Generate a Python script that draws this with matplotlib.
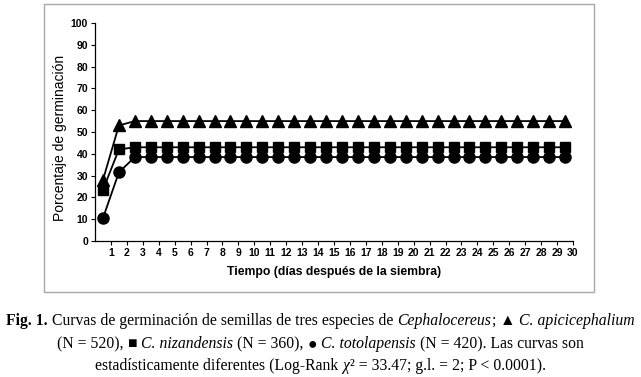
import matplotlib
matplotlib.use('Agg')
import numpy as np
import matplotlib.pyplot as plt
from matplotlib.patches import Rectangle

# Días después de la siembra (categorías del eje x)
dias = [1, 2, 3, 4, 5, 6, 7, 8, 9, 10, 11, 12, 13, 14, 15,
        16, 17, 18, 19, 20, 21, 22, 23, 24, 25, 26, 27, 28, 29, 30]

# Porcentaje de germinación acumulado por especie
apicicephalium = [28, 53, 55, 55, 55, 55, 55, 55, 55, 55, 55, 55, 55, 55, 55,
                  55, 55, 55, 55, 55, 55, 55, 55, 55, 55, 55, 55, 55, 55, 55]
nizandensis = [23.5, 42, 43, 43, 43, 43, 43, 43, 43, 43, 43, 43, 43, 43, 43,
               43, 43, 43, 43, 43, 43, 43, 43, 43, 43, 43, 43, 43, 43, 43]
totolapensis = [10.5, 31.5, 38.5, 38.5, 38.5, 38.5, 38.5, 38.5, 38.5, 38.5,
                38.5, 38.5, 38.5, 38.5, 38.5, 38.5, 38.5, 38.5, 38.5, 38.5,
                38.5, 38.5, 38.5, 38.5, 38.5, 38.5, 38.5, 38.5, 38.5, 38.5]

y_ticks = [0, 10, 20, 30, 40, 50, 60, 70, 80, 90, 100]

# Pie de figura: trozos (texto, estilo, peso); un espacio inicial = separación
linea1 = [('Fig. 1.', 'normal', 'bold'),
          (' Curvas de germinación de semillas de tres especies de', 'normal', 'normal'),
          (' Cephalocereus', 'italic', 'normal'), (';', 'normal', 'normal'),
          (' ▲', 'normal', 'normal'), (' C. apicicephalium', 'italic', 'normal')]
linea2 = [('(N = 520),', 'normal', 'normal'), (' ■', 'normal', 'normal'),
          (' C. nizandensis', 'italic', 'normal'), (' (N = 360),', 'normal', 'normal'),
          (' ●', 'normal', 'normal'), (' C. totolapensis', 'italic', 'normal'),
          (' (N = 420). Las curvas son', 'normal', 'normal')]
linea3 = [('estadísticamente diferentes (Log-Rank', 'normal', 'normal'),
          (' χ', 'italic', 'normal'),
          ('² = 33.47; g.l. = 2; P < 0.0001).', 'normal', 'normal')]

plt.rcParams['font.family'] = ['Liberation Sans', 'DejaVu Sans']

fig = plt.figure(figsize=(6.41, 3.77), dpi=100)
W, H = 641, 377

# Marco gris alrededor del gráfico
fig.patches.append(Rectangle((44 / W, 1 - 292 / H), 550 / W, 288 / H,
                             transform=fig.transFigure, fill=False,
                             edgecolor='#a8a8a8', linewidth=1.0))

ax = fig.add_axes([95 / W, 1 - 241 / H, 478 / W, 218 / H])

# Los puntos se dibujan en el centro de cada categoría
x = np.array(dias) - 0.5
ax.plot(x, apicicephalium, color='black', lw=1.3, marker='^', ms=9, clip_on=False)
ax.plot(x, nizandensis, color='black', lw=1.3, marker='s', ms=7.5, clip_on=False)
ax.plot(x, totolapensis, color='black', lw=1.3, marker='o', ms=8, clip_on=False)

ax.set_xlim(0, 30)
ax.set_ylim(0, 100)
ax.set_xticks(dias)
ax.set_yticks(y_ticks)
ax.tick_params(direction='out', length=3, width=0.8, pad=2, labelsize=7.5)
for lab in ax.get_xticklabels() + ax.get_yticklabels():
    lab.set_fontweight('bold')
ax.spines['top'].set_visible(False)
ax.spines['right'].set_visible(False)
ax.spines['left'].set_linewidth(0.9)
ax.spines['bottom'].set_linewidth(0.9)

ax.set_xlabel('Tiempo (días después de la siembra)', fontsize=8.8,
              fontweight='bold', labelpad=6)
fig.text(60 / W, 1 - 138 / H, 'Porcentaje de germinación', rotation=90,
         ha='center', va='center', fontsize=10)

serif = ['Liberation Serif', 'DejaVu Serif']
renderer = fig.canvas.get_renderer()


def ancho(s, estilo, peso, size):
    t = fig.text(0, 0, s, fontsize=size, family=serif, style=estilo, weight=peso)
    w = t.get_window_extent(renderer).width
    t.remove()
    return w


def dibujar_linea(y_px, trozos, size):
    textos, pos = [], []
    xcur = 0.0
    for s, estilo, peso in trozos:
        if s.startswith(' '):
            s = s[1:]
            xcur += ancho('x x', estilo, peso, size) - ancho('xx', estilo, peso, size)
        t = fig.text(0, 1 - y_px / H, s, fontsize=size, family=serif,
                     style=estilo, weight=peso, va='baseline')
        textos.append(t)
        pos.append(xcur)
        xcur += t.get_window_extent(renderer).width
    x0 = (W - xcur) / 2
    for t, p in zip(textos, pos):
        t.set_x((x0 + p) / W)


dibujar_linea(325, linea1, 11.3)
dibujar_linea(348, linea2, 11.3)
dibujar_linea(370, linea3, 11.3)

fig.savefig('out.png', dpi=100)
